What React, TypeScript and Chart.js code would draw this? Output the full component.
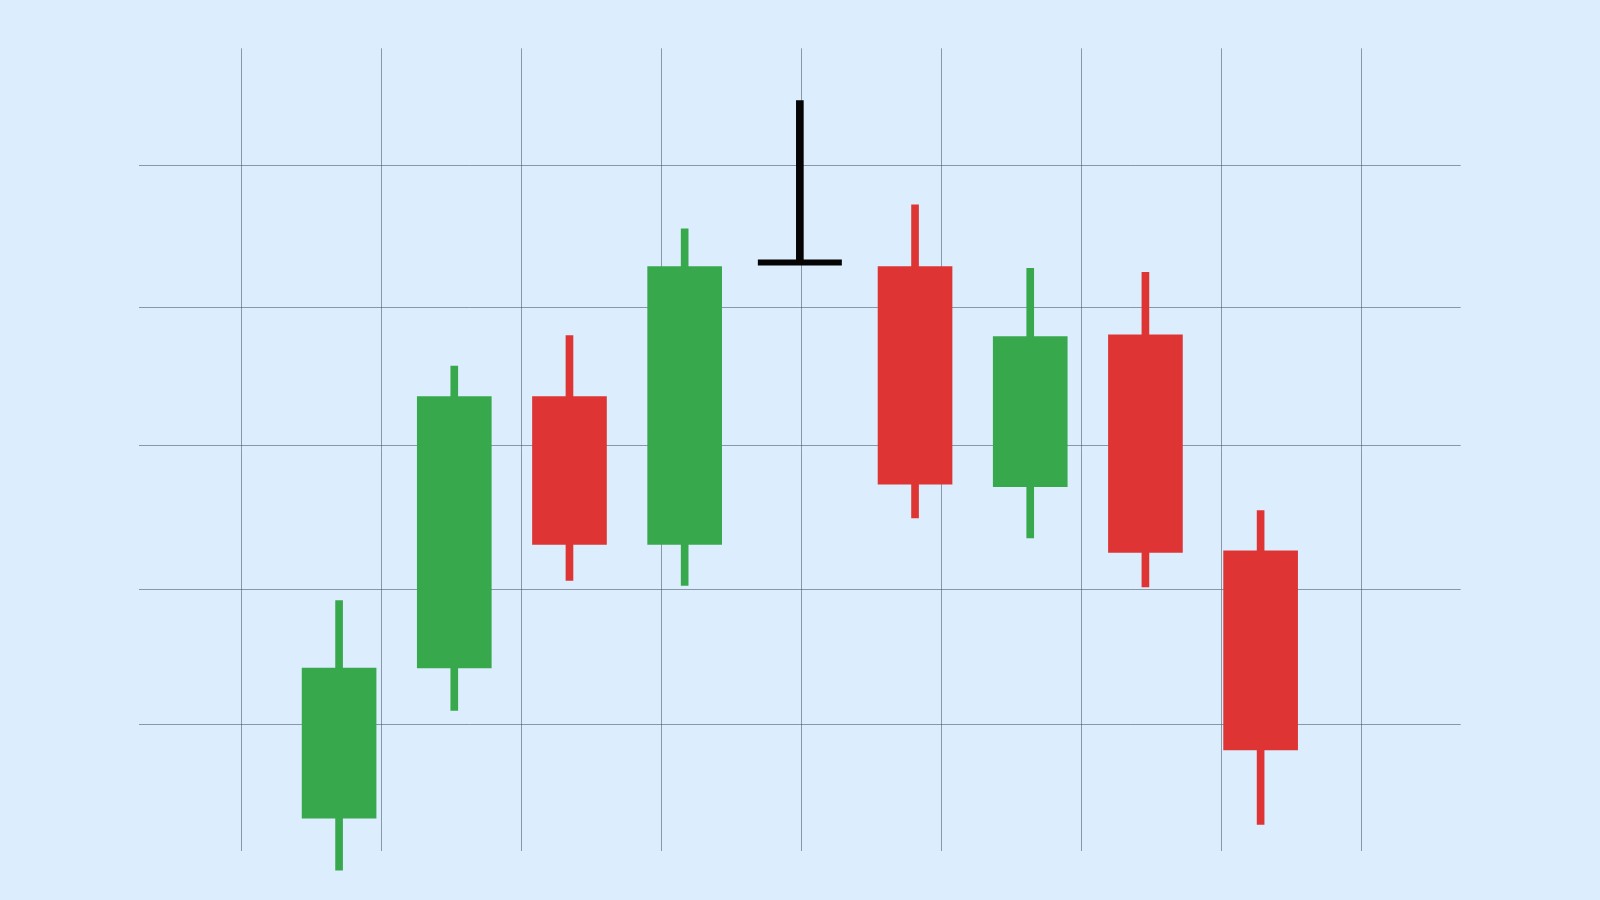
import React, { useEffect, useRef } from "react";
import { Chart, registerables } from "chart.js";

Chart.register(...registerables);

// candle data, one entry per session
const sessions = [1, 2, 3, 4, 5, 6, 7, 8, 9];
const opens = [104.1, 122.8, 156.6, 138.2, 173.3, 172.8, 145.4, 164.3, 137.4];
const highs = [131.2, 160.4, 164.2, 177.5, 193.5, 180.5, 172.6, 172.1, 142.4];
const lows = [97.6, 117.5, 133.7, 133.1, 173.3, 141.5, 139.0, 132.9, 103.3];
const closes = [122.8, 156.6, 138.2, 172.8, 173.3, 145.7, 164.1, 137.2, 112.6];

// background grid (price lines and column lines)
const priceGrid = [185.4, 167.7, 150.5, 132.6, 115.7];
const columnGrid = [-4, -3, -2, -1, 0, 1, 2, 3, 4];

const GREEN = "#38a84d";
const RED = "#df3434";
const BLACK = "#050505";
const GRID = "rgba(70, 82, 95, 0.55)";
const BG = "#dceefd";

const candleColor = (i: number) =>
  closes[i] > opens[i] ? GREEN : closes[i] < opens[i] ? RED : BLACK;

const App = () => {
  const chartRef: any = useRef(null);
  const chartInstance: any = useRef(null);

  useEffect(() => {
    if (chartRef.current) {
      const ctx = chartRef.current.getContext("2d");
      const bodyIdx = sessions.map((_, i) => i).filter((i) => opens[i] !== closes[i]);
      const dojiIdx = sessions.map((_, i) => i).filter((i) => opens[i] === closes[i]);

      chartInstance.current = new Chart(ctx, {
        type: "bar",
        data: {
          datasets: [
            {
              label: "wick",
              data: sessions.map((x, i) => ({ x, y: [lows[i], highs[i]] })) as any,
              backgroundColor: sessions.map((_, i) => candleColor(i)),
              barThickness: 7,
              grouped: false,
              clip: false as any,
              order: 2,
            },
            {
              label: "body",
              data: bodyIdx.map((i) => ({
                x: sessions[i],
                y: [Math.min(opens[i], closes[i]), Math.max(opens[i], closes[i])],
              })) as any,
              backgroundColor: bodyIdx.map((i) => candleColor(i)),
              barThickness: 74,
              grouped: false,
              clip: false as any,
              order: 1,
            },
            {
              type: "line",
              label: "doji",
              data: dojiIdx.map((i) => ({ x: sessions[i], y: closes[i] })) as any,
              showLine: false,
              pointStyle: "line",
              pointRadius: 42,
              pointHoverRadius: 42,
              pointBorderWidth: 6,
              pointBorderColor: BLACK,
              borderColor: BLACK,
              clip: false as any,
              order: 0,
            } as any,
          ],
        },
        options: {
          responsive: true,
          maintainAspectRatio: false,
          animation: false,
          events: [],
          layout: {
            padding: { left: 139, right: 139.3, top: 48.3, bottom: 49 },
          },
          plugins: {
            legend: { display: false },
            tooltip: { enabled: false },
          },
          scales: {
            x: {
              type: "linear",
              min: -0.737,
              max: 10.737,
              offset: false,
              display: false,
              grid: { offset: false },
            },
            xg: {
              type: "linear",
              position: "bottom",
              min: -4.731,
              max: 4.71,
              offset: false,
              afterBuildTicks: (axis: any) => {
                axis.ticks = columnGrid.map((v) => ({ value: v }));
              },
              ticks: { display: false },
              border: { display: false },
              grid: { offset: false, color: GRID, lineWidth: 1, drawTicks: false },
            },
            y: {
              type: "linear",
              min: 100,
              max: 200,
              afterBuildTicks: (axis: any) => {
                axis.ticks = priceGrid.map((v) => ({ value: v }));
              },
              ticks: { display: false },
              border: { display: false },
              grid: { color: GRID, lineWidth: 1, drawTicks: false },
            },
          },
        },
      });
    }

    return () => {
      if (chartInstance.current) {
        chartInstance.current.destroy();
      }
    };
  }, []);

  return (
    <div
      style={{
        position: "fixed",
        left: 0,
        top: 0,
        width: "1600px",
        height: "900px",
        background: BG,
      }}
    >
      <canvas ref={chartRef}></canvas>
    </div>
  );
};

export default App;
